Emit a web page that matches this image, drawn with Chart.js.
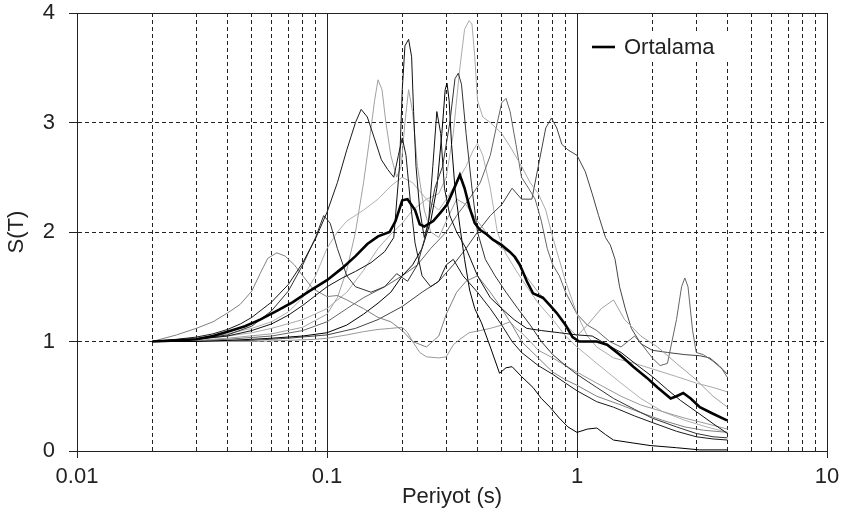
<!DOCTYPE html>
<html>
<head>
<meta charset="utf-8">
<script src="https://cdn.jsdelivr.net/npm/chart.js@4.4.1/dist/chart.umd.min.js"></script>
<style>
  body { margin: 0; background: #fff; }
</style>
</head>
<body>
<canvas id="spektrum" width="844" height="520"></canvas>
<script>
// eksen etiketleri
const xTickValues = [0.01, 0.02, 0.03, 0.04, 0.05, 0.06, 0.07, 0.08, 0.09,
  0.1, 0.2, 0.3, 0.4, 0.5, 0.6, 0.7, 0.8, 0.9,
  1, 2, 3, 4, 5, 6, 7, 8, 9, 10];
const xDecades = [0.01, 0.1, 1, 10];
const xTickLabels = ['0.01', '0.1', '1', '10'];
const yTickValues = [0, 1, 2, 3, 4];
const meanLabel = 'Ortalama';

// ortalama spektrum [periyot, S(T)]
const ortalama = [[0.02,1],[0.025,1.01],[0.03,1.02],[0.035,1.05],[0.04,1.09],[0.047,1.14],[0.054,1.2],[0.063,1.28],[0.073,1.36],[0.085,1.46],[0.1,1.56],[0.115,1.67],[0.13,1.78],[0.145,1.89],[0.16,1.96],[0.178,2.0],[0.188,2.1],[0.2,2.29],[0.21,2.3],[0.225,2.2],[0.235,2.07],[0.245,2.05],[0.266,2.1],[0.285,2.18],[0.302,2.25],[0.32,2.38],[0.34,2.52],[0.355,2.4],[0.372,2.22],[0.39,2.08],[0.409,2.02],[0.435,1.98],[0.461,1.93],[0.5,1.88],[0.538,1.82],[0.565,1.77],[0.591,1.7],[0.63,1.55],[0.667,1.44],[0.73,1.4],[0.78,1.33],[0.83,1.26],[0.9,1.15],[0.96,1.04],[1.02,1.0],[1.12,1.0],[1.2,1.0],[1.32,0.97],[1.5,0.87],[1.68,0.77],[1.9,0.67],[2.1,0.58],[2.37,0.48],[2.5,0.5],[2.66,0.53],[2.85,0.48],[3.1,0.4],[3.5,0.34],[3.98,0.28]];

// kayitlar
const rec1 = [[0.02,1],[0.03,1.02],[0.04,1.05],[0.05,1.1],[0.06,1.16],[0.07,1.24],[0.08,1.33],[0.09,1.42],[0.1,1.5],[0.115,1.58],[0.13,1.64],[0.15,1.72],[0.17,1.82],[0.185,1.95],[0.195,2.6],[0.2,3.3],[0.205,3.7],[0.212,3.76],[0.218,3.6],[0.222,3.1],[0.227,2.6],[0.235,2.2],[0.245,1.95],[0.255,2.1],[0.265,2.6],[0.275,3.1],[0.285,2.9],[0.295,2.4],[0.31,2.15],[0.33,2.0],[0.36,1.85],[0.4,1.6],[0.45,1.4],[0.5,1.3],[0.56,1.2],[0.63,1.12],[0.72,1.1],[0.85,1.08],[1.0,1.06],[1.15,1.05],[1.3,0.98],[1.5,0.9],[1.75,0.78],[2.0,0.68],[2.3,0.56],[2.6,0.46],[3.0,0.36],[3.5,0.25],[4.0,0.16]];
const rec2 = [[0.02,1],[0.025,1.02],[0.03,1.04],[0.035,1.07],[0.04,1.11],[0.045,1.16],[0.05,1.22],[0.06,1.36],[0.07,1.52],[0.08,1.72],[0.09,1.94],[0.1,2.18],[0.11,2.45],[0.12,2.75],[0.13,3.0],[0.137,3.12],[0.145,3.05],[0.155,2.85],[0.165,2.66],[0.175,2.57],[0.185,2.5],[0.193,2.7],[0.2,2.86],[0.207,2.7],[0.215,2.3],[0.225,1.9],[0.24,1.6],[0.26,1.5],[0.28,1.55],[0.3,1.7],[0.32,1.75],[0.35,1.6],[0.4,1.45],[0.45,1.3],[0.5,1.15],[0.55,1.0],[0.6,0.9],[0.7,0.78],[0.8,0.7],[0.9,0.62],[1.0,0.55],[1.2,0.45],[1.4,0.4],[1.7,0.32],[2.0,0.26],[2.5,0.18],[3.0,0.13],[3.5,0.11],[4.0,0.1]];
const rec3 = [[0.02,1],[0.03,1.02],[0.04,1.06],[0.05,1.14],[0.06,1.28],[0.07,1.46],[0.08,1.7],[0.09,1.95],[0.097,2.15],[0.103,2.08],[0.11,1.85],[0.12,1.6],[0.13,1.5],[0.15,1.45],[0.17,1.5],[0.19,1.62],[0.21,1.55],[0.23,1.7],[0.25,2.0],[0.27,2.4],[0.29,2.6],[0.31,3.0],[0.325,3.4],[0.335,3.45],[0.345,3.35],[0.36,2.9],[0.38,2.4],[0.4,2.0],[0.43,1.75],[0.47,1.6],[0.52,1.45],[0.58,1.3],[0.65,1.15],[0.72,1.0],[0.8,0.88],[0.9,0.78],[1.0,0.7],[1.2,0.58],[1.4,0.48],[1.7,0.38],[2.0,0.3],[2.5,0.22],[3.0,0.16],[3.5,0.13],[4.0,0.12]];
const rec4 = [[0.02,1],[0.025,1.06],[0.03,1.12],[0.035,1.18],[0.04,1.26],[0.045,1.34],[0.05,1.46],[0.054,1.62],[0.058,1.76],[0.063,1.81],[0.068,1.78],[0.074,1.7],[0.08,1.6],[0.088,1.48],[0.1,1.41],[0.11,1.42],[0.12,1.38],[0.14,1.3],[0.16,1.22],[0.18,1.18],[0.2,1.1],[0.22,1.0],[0.25,0.95],[0.28,1.05],[0.3,1.25],[0.33,1.45],[0.36,1.55],[0.4,1.6],[0.45,1.45],[0.5,1.3],[0.55,1.15],[0.6,1.0],[0.7,0.85],[0.8,0.72],[0.9,0.65],[1.0,0.6],[1.2,0.5],[1.5,0.42],[1.8,0.35],[2.2,0.28],[2.7,0.22],[3.2,0.19],[4.0,0.17]];
const rec5 = [[0.02,1],[0.03,1.0],[0.04,1.01],[0.05,1.02],[0.06,1.03],[0.08,1.05],[0.1,1.08],[0.12,1.15],[0.14,1.25],[0.16,1.35],[0.18,1.45],[0.2,1.6],[0.22,1.7],[0.24,1.85],[0.26,2.1],[0.275,2.4],[0.288,2.9],[0.297,3.3],[0.302,3.36],[0.308,3.2],[0.315,2.8],[0.325,2.4],[0.34,2.05],[0.355,1.75],[0.372,1.47],[0.39,1.3],[0.415,1.17],[0.45,0.95],[0.49,0.71],[0.52,0.76],[0.55,0.77],[0.6,0.68],[0.667,0.58],[0.72,0.48],[0.78,0.4],[0.85,0.3],[0.92,0.22],[1.0,0.17],[1.1,0.2],[1.2,0.21],[1.3,0.15],[1.4,0.1],[1.6,0.08],[1.96,0.05],[2.5,0.03],[3.1,0.01],[4.0,0.01]];
const rec6 = [[0.02,1],[0.03,1.0],[0.05,1.0],[0.07,1.01],[0.09,1.02],[0.1,1.03],[0.12,1.06],[0.14,1.09],[0.16,1.11],[0.18,1.12],[0.2,1.13],[0.21,1.08],[0.22,1.0],[0.235,0.9],[0.25,0.86],[0.28,0.85],[0.3,0.86],[0.32,0.97],[0.34,1.02],[0.37,1.08],[0.41,1.1],[0.45,1.12],[0.5,1.15],[0.54,1.18],[0.57,1.12],[0.6,1.08],[0.65,1.0],[0.7,0.92],[0.8,0.85],[0.9,0.78],[1.0,0.72],[1.2,0.62],[1.5,0.5],[1.8,0.42],[2.2,0.36],[2.7,0.3],[3.3,0.25],[4.0,0.2]];
const rec7 = [[0.02,1],[0.03,1.02],[0.04,1.05],[0.05,1.08],[0.06,1.12],[0.08,1.2],[0.1,1.3],[0.12,1.45],[0.14,1.65],[0.16,1.85],[0.18,1.98],[0.2,2.08],[0.22,2.2],[0.25,2.3],[0.28,2.35],[0.3,2.5],[0.32,2.9],[0.34,3.5],[0.355,3.85],[0.37,3.93],[0.38,3.9],[0.39,3.6],[0.4,3.2],[0.42,3.05],[0.45,3.0],[0.5,2.9],[0.55,2.75],[0.6,2.6],[0.65,2.45],[0.7,2.35],[0.75,2.2],[0.8,1.95],[0.9,1.55],[1.0,1.25],[1.1,1.05],[1.2,0.95],[1.4,0.85],[1.7,0.8],[2.0,0.75],[2.5,0.68],[3.0,0.62],[3.5,0.58],[4.0,0.54]];
const rec8 = [[0.02,1],[0.03,1.01],[0.04,1.03],[0.06,1.07],[0.08,1.13],[0.1,1.25],[0.11,1.4],[0.12,1.65],[0.13,2.0],[0.14,2.45],[0.148,2.85],[0.155,3.2],[0.16,3.39],[0.166,3.3],[0.172,3.0],[0.18,2.7],[0.19,2.5],[0.198,2.6],[0.205,3.0],[0.212,3.3],[0.22,3.1],[0.23,2.6],[0.245,2.2],[0.26,2.0],[0.28,1.95],[0.3,2.1],[0.33,2.3],[0.36,2.25],[0.4,2.1],[0.45,1.95],[0.5,1.85],[0.55,1.8],[0.6,1.65],[0.7,1.45],[0.8,1.3],[0.9,1.15],[1.0,1.05],[1.1,1.15],[1.25,1.3],[1.4,1.38],[1.55,1.2],[1.8,1.05],[2.1,0.95],[2.5,0.8],[3.0,0.65],[3.5,0.5],[4.0,0.4]];
const rec9 = [[0.02,1],[0.03,1.01],[0.04,1.02],[0.06,1.05],[0.08,1.1],[0.1,1.18],[0.12,1.3],[0.14,1.4],[0.17,1.5],[0.2,1.6],[0.23,1.7],[0.26,1.85],[0.3,2.0],[0.33,2.15],[0.37,2.3],[0.41,2.45],[0.45,2.7],[0.48,3.0],[0.5,3.18],[0.52,3.22],[0.54,3.1],[0.57,2.8],[0.6,2.5],[0.64,2.4],[0.68,2.3],[0.72,2.1],[0.76,1.85],[0.8,1.7],[0.85,1.6],[0.9,1.45],[1.0,1.25],[1.1,1.15],[1.2,1.1],[1.35,1.0],[1.5,0.95],[1.7,1.05],[1.85,0.95],[2.0,0.85],[2.15,0.78],[2.3,0.8],[2.5,1.2],[2.62,1.5],[2.7,1.58],[2.78,1.5],[2.9,1.1],[3.0,0.9],[3.2,0.88],[3.5,0.82],[3.8,0.75],[4.0,0.67]];
const rec10 = [[0.02,1],[0.03,1.0],[0.05,1.01],[0.07,1.03],[0.1,1.06],[0.13,1.12],[0.16,1.2],[0.2,1.32],[0.24,1.45],[0.28,1.55],[0.32,1.7],[0.36,1.85],[0.4,2.0],[0.45,2.15],[0.5,2.25],[0.55,2.4],[0.6,2.3],[0.66,2.3],[0.7,2.6],[0.75,2.95],[0.79,3.04],[0.83,2.95],[0.87,2.8],[0.92,2.75],[1.0,2.7],[1.08,2.55],[1.15,2.35],[1.22,2.15],[1.3,1.95],[1.36,1.88],[1.42,1.75],[1.48,1.5],[1.56,1.3],[1.65,1.12],[1.8,0.98],[2.0,0.92],[2.3,0.9],[2.7,0.88],[3.1,0.87],[3.4,0.85],[3.7,0.78],[4.0,0.7]];
const rec11 = [[0.02,1],[0.03,1.03],[0.04,1.07],[0.05,1.12],[0.06,1.18],[0.07,1.27],[0.08,1.4],[0.09,1.6],[0.1,1.85],[0.11,2.0],[0.12,2.1],[0.14,2.2],[0.16,2.3],[0.18,2.42],[0.2,2.5],[0.22,2.45],[0.25,2.3],[0.28,2.2],[0.3,2.3],[0.33,2.45],[0.36,2.6],[0.385,2.75],[0.4,2.81],[0.42,2.7],[0.45,2.4],[0.48,2.0],[0.52,1.8],[0.57,1.65],[0.63,1.5],[0.7,1.35],[0.8,1.2],[0.9,1.05],[1.0,0.95],[1.2,0.8],[1.5,0.62],[1.8,0.48],[2.2,0.36],[2.7,0.28],[3.3,0.22],[4.0,0.17]];

const records = [rec1, rec2, rec3, rec4, rec5, rec6, rec7, rec8, rec9, rec10, rec11];
const recColors = ['#111', '#1a1a1a', '#333', '#808080', '#000', '#999', '#aaa', '#a0a0a0', '#666', '#444', '#b0b0b0'];

const toXY = arr => arr.map(p => ({ x: p[0], y: p[1] }));

// ortalama once: ilk dataset en ustte cizilir
const datasets = [{
  label: meanLabel,
  data: toXY(ortalama),
  borderColor: '#000',
  borderWidth: 2.6,
  pointRadius: 0,
  tension: 0
}];
records.forEach((r, i) => {
  datasets.push({
    label: 'kayit ' + (i + 1),
    data: toXY(r),
    borderColor: recColors[i],
    borderWidth: 1,
    pointRadius: 0,
    tension: 0
  });
});

const font = { family: '"Liberation Sans", Arial, sans-serif', size: 22 };
const textColor = '#222';
const isDecade = v => xDecades.indexOf(v) >= 0;

// lejant (grafik icinde, sag ust)
const legendBox = {
  id: 'legendBox',
  afterDraw(chart) {
    const { ctx, chartArea } = chart;
    const x = chartArea.right - 235;
    const y = chartArea.top + 34;
    ctx.save();
    ctx.fillStyle = '#fff';
    ctx.fillRect(x - 4, y - 13, 144, 27);
    ctx.strokeStyle = '#000';
    ctx.lineWidth = 2.6;
    ctx.beginPath();
    ctx.moveTo(x, y);
    ctx.lineTo(x + 23, y);
    ctx.stroke();
    ctx.fillStyle = textColor;
    ctx.font = '22px "Liberation Sans", Arial, sans-serif';
    ctx.textBaseline = 'middle';
    ctx.fillText(meanLabel, x + 32, y + 1);
    ctx.restore();
  }
};

new Chart(document.getElementById('spektrum'), {
  type: 'line',
  data: { datasets },
  plugins: [legendBox],
  options: {
    responsive: false,
    animation: false,
    layout: { padding: { top: 13, right: 17, left: 0, bottom: 0 } },
    plugins: {
      legend: { display: false },
      tooltip: { enabled: false }
    },
    scales: {
      x: {
        type: 'logarithmic',
        min: 0.01,
        max: 10,
        afterBuildTicks: scale => {
          scale.ticks = xTickValues.map(v => ({ value: v, major: isDecade(v) }));
        },
        afterFit: scale => {
          scale.height = 69;
          scale.paddingLeft = 0;
          scale.paddingRight = 0;
        },
        ticks: {
          autoSkip: false,
          maxRotation: 0,
          padding: 6,
          color: textColor,
          font,
          callback: v => isDecade(v) ? xTickLabels[xDecades.indexOf(v)] : ''
        },
        grid: {
          color: '#222',
          lineWidth: 1,
          tickLength: 7,
          tickColor: c => (c.tick && isDecade(c.tick.value)) ? '#222' : 'rgba(0,0,0,0)'
        },
        border: {
          color: '#222',
          width: 1,
          dash: c => (c.tick && !isDecade(c.tick.value)) ? [4, 3] : []
        },
        title: {
          display: true,
          text: 'Periyot (s)',
          color: textColor,
          font,
          padding: { top: 0, bottom: 10 }
        }
      },
      y: {
        min: 0,
        max: 4,
        afterBuildTicks: scale => {
          scale.ticks = yTickValues.map(v => ({ value: v }));
        },
        afterFit: scale => {
          scale.width = 77;
          scale.paddingTop = 0;
          scale.paddingBottom = 0;
        },
        ticks: {
          padding: 14,
          color: textColor,
          font
        },
        grid: {
          color: '#222',
          lineWidth: 1,
          tickLength: 8,
          tickColor: '#222'
        },
        border: {
          color: '#222',
          width: 1,
          dash: c => (c.tick && c.tick.value > 0 && c.tick.value < 4) ? [4, 3] : []
        },
        title: {
          display: true,
          text: 'S(T)',
          color: textColor,
          font,
          padding: { top: 4, bottom: 0 }
        }
      }
    }
  }
});
</script>
</body>
</html>
